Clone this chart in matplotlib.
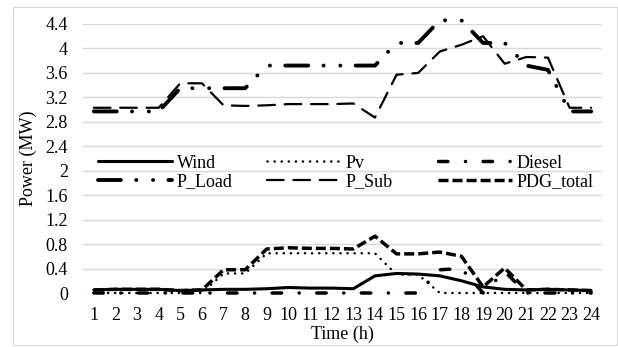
import matplotlib
matplotlib.use("Agg")
import matplotlib.pyplot as plt
from matplotlib.patches import Rectangle

plt.rcParams['font.family'] = ['Liberation Serif', 'DejaVu Serif']
plt.rcParams['lines.scale_dashes'] = False

hours = list(range(1, 25))
wind = [0.05, 0.06, 0.06, 0.06, 0.04, 0.05, 0.06, 0.06, 0.07, 0.09, 0.08, 0.08,
        0.07, 0.28, 0.32, 0.31, 0.28, 0.20, 0.10, 0.06, 0.05, 0.06, 0.05, 0.04]
pv = [0, 0, 0, 0, 0, 0, 0.32, 0.32, 0.65, 0.65, 0.65, 0.65,
      0.65, 0.65, 0.30, 0.30, 0, 0, 0, 0, 0, 0, 0, 0]
diesel = [0, 0, 0, 0, 0, 0, 0, 0, 0, 0, 0, 0,
          0, 0, 0, 0, 0.38, 0.40, 0, 0.35, 0, 0, 0, 0]
p_load = [2.97, 2.97, 2.97, 2.97, 3.35, 3.35, 3.35, 3.35, 3.72, 3.72, 3.72, 3.72,
          3.72, 3.72, 4.09, 4.09, 4.46, 4.46, 4.09, 4.09, 3.72, 3.65, 2.97, 2.97]
p_sub = [3.03, 3.03, 3.03, 3.03, 3.43, 3.43, 3.07, 3.06, 3.07, 3.09, 3.09, 3.09,
         3.10, 2.87, 3.57, 3.60, 3.95, 4.06, 4.20, 3.75, 3.86, 3.85, 3.03, 3.03]
pdg_total = [0.05, 0.06, 0.06, 0.06, 0.04, 0.05, 0.38, 0.38, 0.72, 0.74, 0.73, 0.73,
             0.72, 0.93, 0.64, 0.64, 0.67, 0.60, 0.10, 0.41, 0.05, 0.06, 0.05, 0.04]
yticks = [0, 0.4, 0.8, 1.2, 1.6, 2, 2.4, 2.8, 3.2, 3.6, 4, 4.4]

W, H = 618, 347
fig = plt.figure(figsize=(W / 100, H / 100), dpi=100)
fig.patches.append(Rectangle((13 / W, 1 - 345 / H), 604 / W, 338 / H,
                             transform=fig.transFigure, fill=False,
                             edgecolor='#d9d9d9', linewidth=0.8))
ax = fig.add_axes([83 / W, 1 - 293 / H, (602 - 83) / W, (293 - 24) / H])

fs = 13
lines = []
lines.append(ax.plot(hours, wind, color='black', lw=2.2, solid_capstyle='round',
                     label='Wind', clip_on=False)[0])
lines.append(ax.plot(hours, pv, color='black', lw=1.8, dash_capstyle='round',
                     linestyle=(0, (0.1, 5)), label='Pv', clip_on=False)[0])
lines.append(ax.plot(hours, diesel, color='black', lw=2.5, dash_capstyle='round',
                     linestyle=(0, (6.8, 12.6, 0.1, 12.6)), label='Diesel',
                     clip_on=False)[0])
lines.append(ax.plot(hours, p_load, color='black', lw=2.8, dash_capstyle='round',
                     linestyle=(0, (16.5, 11, 0.1, 12, 0.1, 11)), label='P_Load',
                     clip_on=False)[0])
lines.append(ax.plot(hours, p_sub, color='black', lw=1.6, dash_capstyle='round',
                     linestyle=(0, (12, 7)), label='P_Sub', clip_on=False)[0])
lines.append(ax.plot(hours, pdg_total, color='black', lw=2.5, dash_capstyle='butt',
                     linestyle=(0, (7.2, 2.9)), label='PDG_total', clip_on=False)[0])

ax.set_xlim(0.5, 24.5)
ax.set_ylim(0, 4.4)
ax.set_xticks(hours)
ax.set_yticks(yticks)
ax.set_yticklabels(['{:g}'.format(v) for v in yticks])
ax.tick_params(axis='both', length=0, labelsize=fs)
ax.tick_params(axis='y', pad=10.8)
ax.tick_params(axis='x', pad=10)
ax.grid(axis='y', color='#d9d9d9', linewidth=1)
ax.set_axisbelow(True)
for s in ax.spines.values():
    s.set_visible(False)

fig.text(342 / W, 1 - 334 / H, 'Time (h)', ha='center', va='center', fontsize=fs)
fig.text(28 / W, 1 - 158 / H, 'Power (MW)', ha='center', va='center',
         rotation=90, fontsize=fs)

# three legend columns, placed like the original
cols = [(98, [lines[0], lines[3]]), (267, [lines[1], lines[4]]), (438, [lines[2], lines[5]])]
for x0, hs in cols:
    fig.legend(handles=hs, loc='center left',
               bbox_to_anchor=(x0 / W, 1 - 172.5 / H),
               frameon=False, fontsize=fs, handlelength=4.1,
               handletextpad=0.25, labelspacing=0.1, borderpad=0,
               borderaxespad=0)

fig.savefig('out.png', dpi=100)
